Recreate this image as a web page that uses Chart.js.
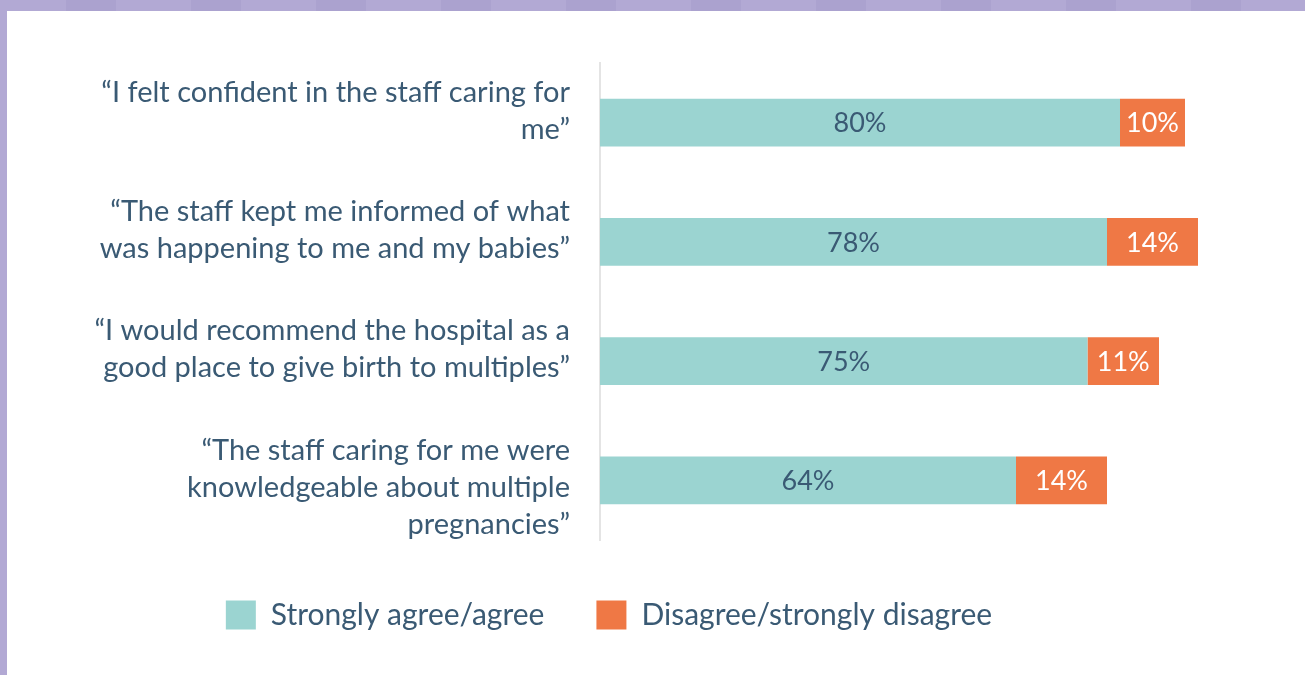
<!DOCTYPE html>
<html lang="en">
<head>
    <meta charset="UTF-8">
    <title>Experience of care</title>
    <script src="https://cdnjs.cloudflare.com/ajax/libs/Chart.js/4.4.1/chart.umd.min.js"></script>
    <style>
        body {
            margin: 0;
            background: #b2a9d4;
            width: 1305px;
            height: 675px;
            overflow: hidden;
        }
        .stripe {
            position: absolute;
            left: 0;
            top: 0;
            width: 1305px;
            height: 11px;
            background: repeating-linear-gradient(90deg, #b2a9d4 0 66px, #aba2cf 66px 116px, #b2a9d4 116px 125px);
            background-size: 125px 11px;
        }
        .frame {
            position: absolute;
            left: 7px;
            top: 11px;
            width: 1298px;
            height: 664px;
            background: #fff;
        }
    </style>
</head>
<body>
    <div class="stripe"></div>
    <div class="frame">
        <canvas id="chart" width="1298" height="664"></canvas>
    </div>

    <script>
        // Statements (the trailing '' keeps every label three lines tall)
        const categories = [
            ['\u201CI felt confident in the staff caring for', 'me\u201D', ''],
            ['\u201CThe staff kept me informed of what', 'was happening to me and my babies\u201D', ''],
            ['\u201CI would recommend the hospital as a', 'good place to give birth to multiples\u201D', ''],
            ['\u201CThe staff caring for me were', 'knowledgeable about multiple', 'pregnancies\u201D']
        ];
        const seriesNames = ['Strongly agree/agree', 'Disagree/strongly disagree'];
        const agree = [80, 78, 75, 64];
        const disagree = [10, 14, 11, 14];

        const TEXT = '#3a5a74';
        const FONT = 'Lato';

        // Percent labels centred inside each segment
        const barLabels = {
            id: 'barLabels',
            afterDatasetsDraw(chart) {
                const ctx = chart.ctx;
                const colors = [TEXT, '#ffffff'];
                ctx.save();
                ctx.font = '27px ' + FONT;
                ctx.textAlign = 'center';
                ctx.textBaseline = 'middle';
                chart.data.datasets.forEach((ds, i) => {
                    chart.getDatasetMeta(i).data.forEach((bar, j) => {
                        const p = bar.getProps(['x', 'y', 'base'], true);
                        ctx.fillStyle = colors[i];
                        ctx.fillText(ds.data[j] + '%', (p.x + p.base) / 2, p.y + 1);
                    });
                });
                ctx.restore();
            }
        };

        new Chart(document.getElementById('chart'), {
            type: 'bar',
            data: {
                labels: categories,
                datasets: [
                    {
                        label: seriesNames[0],
                        data: agree,
                        backgroundColor: '#9bd4d1'
                    },
                    {
                        label: seriesNames[1],
                        data: disagree,
                        backgroundColor: '#ef7845'
                    }
                ]
            },
            options: {
                indexAxis: 'y',
                responsive: false,
                animation: false,
                barPercentage: 0.4,
                categoryPercentage: 1,
                layout: {
                    padding: { top: 52, right: 94, bottom: 35, left: 0 }
                },
                scales: {
                    x: {
                        stacked: true,
                        min: 0,
                        max: 94,
                        grid: { display: false },
                        border: { display: false },
                        ticks: { display: false },
                        afterFit: (s) => { s.height = 8; s.paddingLeft = 0; s.paddingRight = 0; }
                    },
                    y: {
                        stacked: true,
                        grid: { display: false, drawTicks: false },
                        border: { display: true, color: '#e4e4e4', width: 2 },
                        ticks: {
                            color: TEXT,
                            padding: 30,
                            labelOffset: 7,
                            autoSkip: false,
                            font: { family: FONT, size: 29, lineHeight: 1.28 }
                        },
                        afterFit: (s) => {
                            s.width = 593;
                            s.paddingTop = 0;
                            s.paddingBottom = 0;
                        }
                    }
                },
                plugins: {
                    legend: {
                        position: 'bottom',
                        labels: {
                            boxWidth: 30,
                            boxHeight: 29,
                            padding: 52,
                            color: TEXT,
                            font: { family: FONT, size: 30 }
                        }
                    },
                    tooltip: { enabled: false }
                }
            },
            plugins: [barLabels]
        });
    </script>
</body>
</html>
